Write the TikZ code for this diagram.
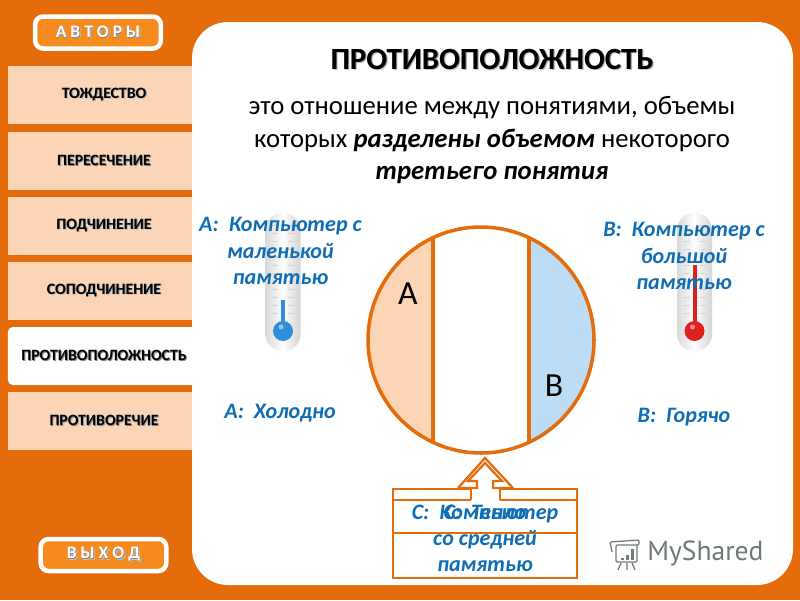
\documentclass[tikz,border=0pt]{standalone}
\usepackage{fontspec}
\setmainfont{Carlito}
\newfontfamily\logofont{PT Sans}
\usepackage{tikz}
\definecolor{pageorange}{HTML}{E46C0A}
\definecolor{btnorange}{HTML}{F58A1F}
\definecolor{menupeach}{HTML}{FBD5B5}
\definecolor{lightblue}{HTML}{BDDDF7}
\definecolor{labelblue}{HTML}{0F6DB4}
\definecolor{logogray}{HTML}{6F7A78}
\definecolor{coldblue}{HTML}{2F8FDD}
\definecolor{hotred}{HTML}{E0201C}
\newcommand{\shadowtext}[2]{\leavevmode\rlap{\raisebox{-1pt}{\hspace{1pt}\textcolor{#1!45}{#2}}}\rlap{\raisebox{-0.5pt}{\hspace{0.5pt}\textcolor{#1}{#2}}}#2}
\tikzset{
    menuitem/.style={fill=menupeach, minimum width=4.8cm, minimum height=1.45cm, inner sep=0pt, text=black,
        font=\fontsize{11.2}{13}\selectfont\bfseries},
    activeitem/.style={menuitem, fill=white, rounded corners=0.12cm},
    navbutton/.style={draw=white, fill=btnorange, line width=3.2pt, rounded corners=0.2cm, minimum width=3.14cm,
        minimum height=0.8cm, inner sep=0pt, text=white, font=\fontsize{12.5}{14}\selectfont\bfseries},
    bluetext/.style={text=labelblue, align=center, inner sep=0pt, font=\fontsize{15.7}{18.6}\selectfont\bfseries\itshape},
    bodytext/.style={text=black, align=center, inner sep=0pt, font=\fontsize{19}{22.8}\selectfont},
    lettertext/.style={text=black, inner sep=0pt, font=\fontsize{24}{26}\selectfont},
    outline/.style={draw=pageorange, line width=2.5pt},
    thinline/.style={draw=pageorange, line width=2pt},
    arrowline/.style={draw=pageorange, line width=1.6pt},
}
\begin{document}
\begin{tikzpicture}[x=0.025cm, y=-0.025cm]
    \useasboundingbox (0,0) rectangle (800,600);
    \fill[pageorange] (0,0) rectangle (800,600);

    % menu on the left
    \foreach \i/\y/\name in {1/95/ТОЖДЕСТВО,2/161/ПЕРЕСЕЧЕНИЕ,3/226/ПОДЧИНЕНИЕ,4/291/СОПОДЧИНЕНИЕ,6/421/ПРОТИВОРЕЧИЕ}
	\node[menuitem] (menu\i) at (104,\y) {\shadowtext{gray}{\name}};
    \node[activeitem] (menu5) at (104,356) {\shadowtext{gray}{ПРОТИВОПОЛОЖНОСТЬ}};

    \node[navbutton] (authors) at (98,32.5) {\shadowtext{gray}{А В Т О Р Ы}};
    \node[navbutton] (quit) at (103.5,555) {\shadowtext{gray}{В Ы Х О Д}};

    % white panel
    \fill[white, rounded corners=0.9cm] (192,22) rectangle (793,585);

    \node[inner sep=0pt, text=black, font=\fontsize{21.9}{26}\selectfont\bfseries] (title) at (492,60)
	{\shadowtext{gray}{ПРОТИВОПОЛОЖНОСТЬ}};
    \node[bodytext] (definition) at (492,140)
	{это отношение между понятиями, объемы\\
	 которых \textbf{\textit{разделены объемом}} некоторого\\
	 \textbf{\textit{третьего понятия}}};

    % thermometers
    \foreach \tx/\ty/\tc in {283/300/coldblue,694.5/265/hotred} {
	\shade[left color=gray!30, right color=gray!35, middle color=white, rounded corners=0.42cm]
	    (\tx-17.5,213) rectangle (\tx+17.5,351);
	\foreach \t in {225,233,...,313} {
	    \draw[gray!35, very thin] (\tx-11,\t) -- (\tx-5,\t);
	    \draw[gray!35, very thin] (\tx+5,\t) -- (\tx+11,\t);
	}
	\fill[\tc] (\tx-2,\ty) rectangle (\tx+2,325);
	\fill[\tc] (\tx,331) circle (10);
	\fill[white, opacity=0.5] (\tx-2,327) circle (2.5);
    }

    % circle with the two classes
    \coordinate (center) at (481,340);
    \begin{scope}
	\clip (center) circle (113);
	\fill[menupeach] (368,227) rectangle (433,453);
	\fill[lightblue] (529,227) rectangle (594,453);
    \end{scope}
    \draw[outline] (center) circle (113);
    \draw[outline] (433,237.7) -- (433,442.3);
    \draw[outline] (529,237.7) -- (529,442.3);
    \node[lettertext] (labelA) at (408,294) {А};
    \node[lettertext] (labelB) at (554,386) {В};

    % box below with the arrow
    \draw[thinline] (471,500) -- (471,489) -- (393,489) -- (393,578) -- (577,578) -- (577,489) -- (500,489) -- (500,500);
    \draw[thinline] (393,500) -- (471,500);
    \draw[thinline] (500,500) -- (577,500);
    \draw[thinline] (393,533) -- (577,533);
    \draw[arrowline] (458,488) -- (485,458) -- (513,488);
    \draw[arrowline] (458,488) -- (477,488) -- (477,481) -- (468,481) -- (485,463) -- (502,481) -- (493,481) -- (493,488) -- (513,488);

    % labels
    \node[bluetext] (textA) at (280.5,251) {А:\ \ Компьютер с\\маленькой\\памятью};
    \node[bluetext] (textB) at (684,256) {В:\ \ Компьютер с\\большой\\памятью};
    \node[bluetext] (coldA) at (280,413.5) {А:\ \ Холодно};
    \node[bluetext] (hotB) at (684,417.5) {В:\ \ Горячо};
    \node[bluetext] (warmC) at (485,512.5) {С:\ \ Тепло};
    \node[bluetext] (textC) at (485,538.5) {С:\ \ Компьютер\\со средней\\памятью};

    % logo
    \node[anchor=west, inner sep=0pt, text=logogray, font=\fontsize{19.6}{24}\selectfont\logofont] (logo) at (647,553) {MyShared};
    \draw[logogray, line width=0.9pt, rounded corners=0.03cm] (612,552) -- (610,542) -- (639,540) -- (639,545) -- (616,545) -- (616,562) -- (637,562) -- (637,545);
    \foreach \bx/\by in {622/558,627/555,632/549}
	\fill[logogray] (\bx-1.5,\by) rectangle (\bx+1.5,560);
    \draw[logogray, line width=0.9pt] (621,563) -- (618,570) (627,563) -- (627,570) (632,563) -- (635,570);
\end{tikzpicture}
\end{document}
